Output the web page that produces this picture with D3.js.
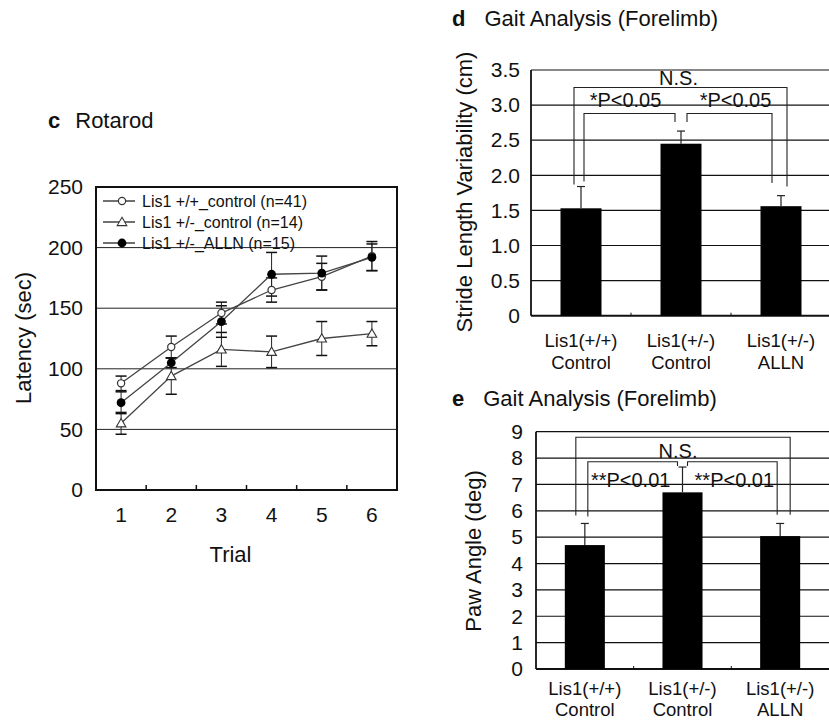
<!DOCTYPE html>
<html>
<head>
<meta charset="utf-8">
<script src="https://cdn.jsdelivr.net/npm/d3@7"></script>
<style>
  body { margin: 0; background: #fff; }
  svg { display: block; font-family: 'Liberation Sans', Arial, sans-serif; }
</style>
</head>
<body>
<div id="chart"></div>
<script>
// panel c - rotarod
const trials = [1, 2, 3, 4, 5, 6];
const rotarodTicks = [0, 50, 100, 150, 200, 250];
const wtControl = [88, 118, 146, 165, 176, 193];
const wtControlErr = [6, 9, 9, 10, 11, 12];
const hetControl = [55, 94, 116, 114, 125, 129];
const hetControlErr = [9, 15, 14, 13, 14, 10];
const hetAlln = [72, 105, 139, 178, 179, 192];
const hetAllnErr = [9, 4, 13, 18, 14, 11];
const seriesNames = ['Lis1 +/+_control (n=41)', 'Lis1 +/-_control (n=14)', 'Lis1 +/-_ALLN (n=15)'];

// panels d, e - gait analysis
const groupLine1 = ['Lis1(+/+)', 'Lis1(+/-)', 'Lis1(+/-)'];
const groupLine2 = ['Control', 'Control', 'ALLN'];
const strideTicks = [0, 0.5, 1.0, 1.5, 2.0, 2.5, 3.0, 3.5];
const strideValues = [1.53, 2.45, 1.56];
const strideErr = [0.31, 0.18, 0.15];
const pawTicks = [0, 1, 2, 3, 4, 5, 6, 7, 8, 9];
const pawValues = [4.70, 6.70, 5.04];
const pawErr = [0.82, 0.96, 0.48];

// significance brackets (heights in data units)
const strideBrackets = [
  {from: 0, to: 2, top: 3.25, leftEnd: 1.87, rightEnd: 1.84, label: 'N.S.', labelAt: 3.28},
  {from: 0, to: 1, top: 2.88, leftEnd: 1.91, rightEnd: 2.76, label: '*P<0.05', labelAt: 2.98},
  {from: 1, to: 2, top: 2.88, leftEnd: 2.76, rightEnd: 1.89, label: '*P<0.05', labelAt: 2.98}
];
const pawBrackets = [
  {from: 0, to: 2, top: 8.79, leftEnd: 5.82, rightEnd: 5.85, label: 'N.S.', labelAt: 7.99},
  {from: 0, to: 1, top: 7.86, leftEnd: 5.78, rightEnd: 7.70, label: '**P<0.01', labelAt: 6.91},
  {from: 1, to: 2, top: 7.86, leftEnd: 7.70, rightEnd: 5.85, label: '**P<0.01', labelAt: 6.91}
];

const W = 829, H = 722;
const ink = '#111';

const svg = d3.select('#chart').append('svg')
  .attr('width', W)
  .attr('height', H);

svg.append('rect').attr('width', W).attr('height', H).attr('fill', '#fff');

function panelTitle(x, y, letter, text, gap) {
  const t = svg.append('text')
    .attr('x', x)
    .attr('y', y)
    .style('font-size', '22px')
    .attr('fill', ink);
  t.append('tspan').text(letter).style('font-weight', 'bold');
  t.append('tspan').attr('dx', gap).text(text);
}

//------------- panel c -------------
const cBox = {left: 96, right: 397, top: 187, bottom: 490};

const xC = d3.scaleBand()
  .domain(trials)
  .range([cBox.left, cBox.right]);
const yC = d3.scaleLinear()
  .domain([0, 250])
  .range([cBox.bottom, cBox.top]);
const cx = t => xC(t) + xC.bandwidth() / 2;

panelTitle(48, 128, 'c', 'Rotarod', 15);

const cG = svg.append('g');

// gridlines
cG.selectAll('.gridC')
  .data(rotarodTicks.filter(d => d > 0 && d < 250))
  .enter().append('line')
  .attr('x1', cBox.left).attr('x2', cBox.right)
  .attr('y1', d => yC(d)).attr('y2', d => yC(d))
  .attr('stroke', '#222').attr('stroke-width', 1);

// frame
cG.append('rect')
  .attr('x', cBox.left).attr('y', cBox.top)
  .attr('width', cBox.right - cBox.left)
  .attr('height', cBox.bottom - cBox.top)
  .attr('fill', 'none').attr('stroke', ink).attr('stroke-width', 2);

// inner tick marks between trials
cG.selectAll('.tickC')
  .data(trials.slice(1))
  .enter().append('line')
  .attr('x1', d => xC(d)).attr('x2', d => xC(d))
  .attr('y1', cBox.bottom).attr('y2', cBox.bottom - 5)
  .attr('stroke', ink).attr('stroke-width', 1.5);

const yAxisC = cG.append('g')
  .attr('transform', `translate(${cBox.left},0)`)
  .call(d3.axisLeft(yC).tickValues(rotarodTicks).tickSize(0).tickPadding(13));
yAxisC.select('.domain').remove();
yAxisC.selectAll('text').style('font-size', '21px').attr('fill', ink)
  .style('font-family', "'Liberation Sans', Arial, sans-serif");

const xAxisC = cG.append('g')
  .attr('transform', `translate(0,${cBox.bottom})`)
  .call(d3.axisBottom(xC).tickSize(0).tickPadding(17));
xAxisC.select('.domain').remove();
xAxisC.selectAll('text').style('font-size', '21px').attr('fill', ink)
  .style('font-family', "'Liberation Sans', Arial, sans-serif");

cG.append('text')
  .attr('x', (cBox.left + cBox.right) / 2 - 16)
  .attr('y', 562)
  .attr('text-anchor', 'middle')
  .style('font-size', '22px')
  .attr('fill', ink)
  .text('Trial');

cG.append('text')
  .attr('transform', 'translate(31,338) rotate(-90)')
  .attr('text-anchor', 'middle')
  .style('font-size', '22px')
  .attr('fill', ink)
  .text('Latency (sec)');

const series = [
  {name: seriesNames[0], values: wtControl, err: wtControlErr, marker: 'openCircle'},
  {name: seriesNames[1], values: hetControl, err: hetControlErr, marker: 'triangle'},
  {name: seriesNames[2], values: hetAlln, err: hetAllnErr, marker: 'filledCircle'}
];

function drawMarker(g, type, x, y) {
  if (type === 'openCircle') {
    g.append('circle').attr('cx', x).attr('cy', y).attr('r', 3.6)
      .attr('fill', '#fff').attr('stroke', '#333').attr('stroke-width', 1.2);
  } else if (type === 'filledCircle') {
    g.append('circle').attr('cx', x).attr('cy', y).attr('r', 4.4)
      .attr('fill', '#000');
  } else {
    g.append('path')
      .attr('d', d3.symbol(d3.symbolTriangle, 40)())
      .attr('transform', `translate(${x},${y + 0.8})`)
      .attr('fill', '#fff').attr('stroke', '#333').attr('stroke-width', 1.1);
  }
}

const line = d3.line()
  .x((d, i) => cx(trials[i]))
  .y(d => yC(d));

// error bars
series.forEach(s => {
  const eg = cG.append('g');
  s.values.forEach((v, i) => {
    const x = cx(trials[i]);
    eg.append('line')
      .attr('x1', x).attr('x2', x)
      .attr('y1', yC(v - s.err[i])).attr('y2', yC(v + s.err[i]))
      .attr('stroke', '#222').attr('stroke-width', 1);
    [v - s.err[i], v + s.err[i]].forEach(e => {
      eg.append('line')
        .attr('x1', x - 5.5).attr('x2', x + 5.5)
        .attr('y1', yC(e)).attr('y2', yC(e))
        .attr('stroke', '#111').attr('stroke-width', 1.5);
    });
  });
});

// lines then markers
series.forEach(s => {
  cG.append('path')
    .attr('d', line(s.values))
    .attr('fill', 'none')
    .attr('stroke', '#444')
    .attr('stroke-width', 1.3);
});
series.forEach(s => {
  s.values.forEach((v, i) => drawMarker(cG, s.marker, cx(trials[i]), yC(v)));
});

// legend
const legendRows = [201, 222, 243];
series.forEach((s, i) => {
  const ly = legendRows[i];
  cG.append('line')
    .attr('x1', 103).attr('x2', 135)
    .attr('y1', ly).attr('y2', ly)
    .attr('stroke', '#222').attr('stroke-width', 1.3);
  drawMarker(cG, s.marker, 122, ly);
  cG.append('text')
    .attr('x', 142).attr('y', ly)
    .attr('dy', '0.35em')
    .style('font-size', '16px')
    .attr('fill', ink)
    .text(s.name);
});

//------------- bar panels -------------
function barPanel(opt) {
  const g = svg.append('g');
  const x = d3.scaleBand()
    .domain(d3.range(opt.values.length))
    .range([opt.left, opt.right])
    .paddingInner(0.59)
    .paddingOuter(0.295);
  const y = d3.scaleLinear()
    .domain([0, opt.max])
    .range([opt.bottom, opt.top]);
  const bc = i => x(i) + x.bandwidth() / 2;

  panelTitle(452, opt.titleY, opt.letter, 'Gait Analysis (Forelimb)', 19);

  // gridlines
  g.selectAll('.grid')
    .data(opt.ticks.filter(d => d > 0))
    .enter().append('line')
    .attr('x1', opt.left).attr('x2', W)
    .attr('y1', d => y(d)).attr('y2', d => y(d))
    .attr('stroke', '#111').attr('stroke-width', 1.2);

  // axes lines
  g.append('line')
    .attr('x1', opt.left).attr('x2', opt.left)
    .attr('y1', opt.top).attr('y2', opt.bottom)
    .attr('stroke', ink).attr('stroke-width', 1.8);
  g.append('line')
    .attr('x1', opt.left).attr('x2', W)
    .attr('y1', opt.bottom).attr('y2', opt.bottom)
    .attr('stroke', ink).attr('stroke-width', 2);

  // small ticks between groups
  g.selectAll('.tk')
    .data(d3.range(1, opt.values.length))
    .enter().append('line')
    .attr('x1', i => x(i) - x.step() * 0.295).attr('x2', i => x(i) - x.step() * 0.295)
    .attr('y1', opt.bottom).attr('y2', opt.bottom - 3)
    .attr('stroke', ink).attr('stroke-width', 1);

  const yAxis = g.append('g')
    .attr('transform', `translate(${opt.left},0)`)
    .call(d3.axisLeft(y).tickValues(opt.ticks).tickSize(0).tickPadding(opt.tickPad)
      .tickFormat(opt.format));
  yAxis.select('.domain').remove();
  yAxis.selectAll('text').style('font-size', '21px').attr('fill', ink)
    .style('font-family', "'Liberation Sans', Arial, sans-serif");

  g.append('text')
    .attr('transform', `translate(${opt.labelX},${opt.labelY}) rotate(-90)`)
    .attr('text-anchor', 'middle')
    .style('font-size', '22px')
    .attr('fill', ink)
    .text(opt.yLabel);

  // bars
  g.selectAll('.bar')
    .data(opt.values)
    .enter().append('rect')
    .attr('x', (d, i) => x(i))
    .attr('y', d => y(d))
    .attr('width', x.bandwidth())
    .attr('height', d => opt.bottom - y(d))
    .attr('fill', '#000');

  // upper error bars
  opt.values.forEach((v, i) => {
    const xc = bc(i);
    g.append('line')
      .attr('x1', xc).attr('x2', xc)
      .attr('y1', y(v)).attr('y2', y(v + opt.err[i]))
      .attr('stroke', '#222').attr('stroke-width', 1.2);
    g.append('line')
      .attr('x1', xc - 4).attr('x2', xc + 4)
      .attr('y1', y(v + opt.err[i])).attr('y2', y(v + opt.err[i]))
      .attr('stroke', '#222').attr('stroke-width', 1.2);
  });

  // category labels (two lines each)
  opt.values.forEach((v, i) => {
    [groupLine1[i], groupLine2[i]].forEach((txt, j) => {
      g.append('text')
        .attr('x', bc(i))
        .attr('y', opt.catY[j])
        .attr('text-anchor', 'middle')
        .style('font-size', '18.5px')
        .attr('fill', ink)
        .text(txt);
    });
  });

  // significance brackets
  opt.brackets.forEach((b, k) => {
    const x1 = bc(b.from) + opt.insets[k][0];
    const x2 = bc(b.to) + opt.insets[k][1];
    g.append('path')
      .attr('d', `M${x1},${y(b.leftEnd)}V${y(b.top)}H${x2}V${y(b.rightEnd)}`)
      .attr('fill', 'none')
      .attr('stroke', '#222')
      .attr('stroke-width', 1.1);
    g.append('text')
      .attr('x', (x1 + x2) / 2 + opt.labelShift[k])
      .attr('y', y(b.labelAt))
      .attr('text-anchor', 'middle')
      .style('font-size', '20px')
      .attr('fill', ink)
      .text(b.label);
  });
}

barPanel({
  letter: 'd', titleY: 26,
  left: 531, right: 831, top: 70, bottom: 315.7, max: 3.5,
  ticks: strideTicks, values: strideValues, err: strideErr,
  format: d => d === 0 ? '0' : d3.format('.1f')(d), tickPad: 11,
  yLabel: 'Stride Length Variability (cm)', labelX: 472, labelY: 192,
  catY: [347, 369],
  brackets: strideBrackets,
  insets: [[-7, 6], [3, -6], [6, -9]],
  labelShift: [-2, -4, 6]
});

barPanel({
  letter: 'e', titleY: 406,
  left: 536, right: 829, top: 431.7, bottom: 669, max: 9,
  ticks: pawTicks, values: pawValues, err: pawErr,
  format: d3.format('d'), tickPad: 13,
  yLabel: 'Paw Angle (deg)', labelX: 481, labelY: 551,
  catY: [695, 716],
  brackets: pawBrackets,
  insets: [[-9, 10], [3, -5], [5, -3]],
  labelShift: [-5, -2, 2]
});
</script>
</body>
</html>
